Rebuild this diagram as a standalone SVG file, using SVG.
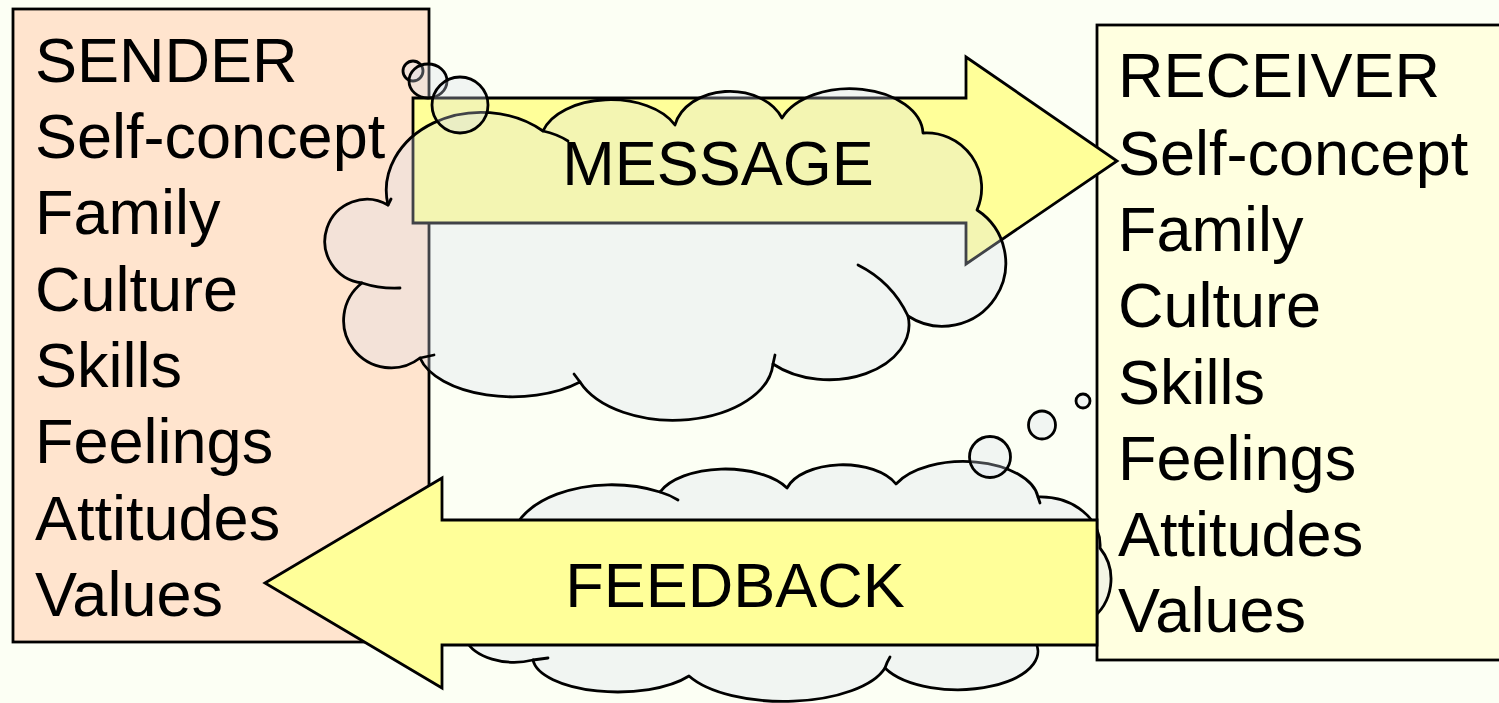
<svg xmlns="http://www.w3.org/2000/svg" width="1499" height="703" viewBox="0 0 1499 703">
<style>
.bg{fill:#FCFFF4}
.box{stroke:#000;stroke-width:2.8}
.t{font-family:"Liberation Sans",Arial,sans-serif;font-size:63px;fill:#000}
.arrow{fill:#FFFF99;stroke:#000;stroke-width:2.8;stroke-linejoin:miter}
.cloud{fill:#D8DEF0;fill-opacity:0.3;stroke:#000;stroke-width:2.8;stroke-linejoin:round}
.hook{fill:none;stroke:#000;stroke-width:2.8;stroke-linecap:round}
</style>
<rect class="bg" x="0" y="0" width="1499" height="703"/>
<g id="sender">
<rect class="box" x="13" y="9" width="416" height="633" fill="#FFE4CE"/>
<text class="t" x="35" y="82">SENDER</text>
<text class="t" x="35" y="158">Self-concept</text>
<text class="t" x="35" y="234">Family</text>
<text class="t" x="35" y="311">Culture</text>
<text class="t" x="35" y="387">Skills</text>
<text class="t" x="35" y="463">Feelings</text>
<text class="t" x="35" y="540">Attitudes</text>
<text class="t" x="35" y="616">Values</text>
</g>
<g id="receiver">
<rect class="box" x="1097" y="25" width="420" height="635" fill="#FFFFE0"/>
<text class="t" x="1118" y="97">RECEIVER</text>
<text class="t" x="1118" y="175">Self-concept</text>
<text class="t" x="1118" y="251">Family</text>
<text class="t" x="1118" y="327">Culture</text>
<text class="t" x="1118" y="404">Skills</text>
<text class="t" x="1118" y="480">Feelings</text>
<text class="t" x="1118" y="556">Attitudes</text>
<text class="t" x="1118" y="632">Values</text>
</g>
<g id="connectors">
<g id="message">
<path class="arrow" d="M413,98 L966,98 L966,57 L1117,161 L966,264 L966,223 L413,223 Z"/>
</g>
<g id="sender-thought">
<path class="cloud" d="M388,205 A95,78 0 0 1 543,131 A70,42 0 0 1 675,125 A56,42 0 0 1 782,118 A73,46 0 0 1 923,133 A55,55 0 0 1 977,210 A60,60 0 0 1 908,316 A80,55 0 0 1 773,364 A100,60 0 0 1 580,382 A95,50 0 0 1 420,358 A45,45 0 0 1 362,283 A42,42 0 1 1 388,205 Z"/>
<path class="hook" d="M543,131 Q557,134 568,141"/>
<path class="hook" d="M858,265 Q892,282 908,316"/>
<path class="hook" d="M400,288 Q380,289 362,283"/>
<path class="hook" d="M434,355 L420,358"/>
<path class="hook" d="M775,355 L773,364"/>
<path class="hook" d="M574,374 L580,382"/>
<path class="hook" d="M391,199 L388,205"/>
<ellipse class="cloud" cx="413" cy="71" rx="10" ry="10"/>
<ellipse class="cloud" cx="428" cy="81" rx="19" ry="17"/>
<ellipse class="cloud" cx="460" cy="105" rx="28" ry="28"/>
</g>
<text id="message-label" class="t" x="718" y="185" text-anchor="middle" fill="#262626">MESSAGE</text>
<g id="receiver-thought">
<path class="cloud" d="M512,548 A100,58 0 0 1 660,492 A70,36 0 0 1 787,488 A58,32 0 0 1 896,484 A75,40 0 0 1 1038,497 A60,48 0 0 1 1100,548 A50,50 0 0 1 1090,620 L1030,635 A80,38 0 0 1 885,668 A105,45 0 0 1 689,676 A85,35 0 0 1 533,660 A50,30 0 0 1 466,640 Z"/>
<path class="hook" d="M660,492 Q670,495 678,500"/>
<path class="hook" d="M533,660 L548,658"/>
<path class="hook" d="M885,668 Q887,662 890,657"/>
<path class="hook" d="M1038,497 L1040,503"/>
<ellipse class="cloud" cx="1083" cy="401" rx="7" ry="7"/>
<ellipse class="cloud" cx="1042" cy="425" rx="13.5" ry="14"/>
<ellipse class="cloud" cx="990" cy="457" rx="20.5" ry="20.5"/>
</g>
<g id="feedback">
<path class="arrow" d="M265,583 L442,478 L442,520 L1097,520 L1097,645 L442,645 L442,688 Z"/>
<text class="t" x="735" y="607" text-anchor="middle">FEEDBACK</text>
</g>
</g>
</svg>
